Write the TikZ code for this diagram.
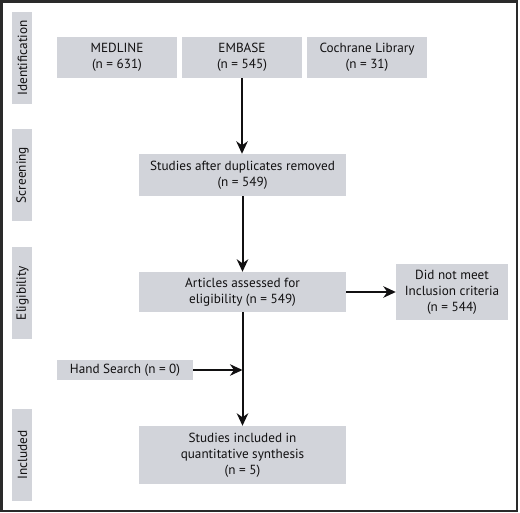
\documentclass[tikz,border=0pt]{standalone}
\usepackage{fontspec}
\setmainfont{PT Sans}
\usetikzlibrary{arrows.meta}
\definecolor{boxfill}{HTML}{D2D4DA}
\definecolor{txt}{HTML}{111011}
\definecolor{frame}{HTML}{2A2A2A}
\begin{document}
\begin{tikzpicture}[x=1pt,y=-1pt,
  box/.style={rectangle,fill=boxfill,inner sep=0pt,align=center,text=txt,
    font=\fontsize{13.2}{16}\selectfont},
  strip/.style={rectangle,fill=boxfill,inner sep=0pt,minimum width=20pt,minimum height=92pt},
  striptext/.style={rotate=90,text=txt,inner sep=0pt,font=\fontsize{13.3}{15}\selectfont},
  arr/.style={line width=2pt,txt,-{Stealth[length=12.5pt,width=11.5pt,inset=4pt]}}]
\useasboundingbox (0,0) rectangle (520,513);
\draw[frame,line width=2.2pt] (1.5,1.5) rectangle (517,511);
% stage strips
\node[strip] (sid) at (22,58) {};
\node[striptext] (tid) at (22.5,58) {Identification};
\node[strip] (ssc) at (22,175) {};
\node[striptext] (tsc) at (22.5,175) {Screening};
\node[strip] (sel) at (22,293) {};
\node[striptext] (tel) at (22.5,293) {Eligibility};
\node[strip] (sin) at (22,455) {};
\node[striptext] (tin) at (22.5,455) {Included};
% boxes
\node[box,minimum width=120pt,minimum height=41pt] (med) at (117,57.5) {MEDLINE\\(n = 631)};
\node[box,minimum width=120pt,minimum height=41pt] (emb) at (242,57.5) {EMBASE\\(n = 545)};
\node[box,minimum width=120pt,minimum height=41pt] (coc) at (367,57.5) {Cochrane Library\\(n = 31)};
\node[box,minimum width=207pt,minimum height=42pt] (dup) at (242.5,175) {Studies after duplicates removed\\(n = 549)};
\node[box,minimum width=207pt,minimum height=40pt] (art) at (242.5,292) {Articles assessed for\\eligibility (n = 549)};
\node[box,minimum width=112pt,minimum height=56pt] (dnm) at (452,292) {Did not meet\\Inclusion criteria\\(n = 544)};
\node[box,minimum width=136pt,minimum height=20pt] (hand) at (125,370) {Hand Search (n = 0)};
\node[box,minimum width=207pt,minimum height=58pt] (inc) at (242.5,455) {Studies included in\\quantitative synthesis\\(n = 5)};
\coordinate (join) at (242.5,370);
% connectors
\draw[arr] (emb.south) -- (emb.south |- dup.north);
\draw[arr] (dup.south) -- (art.north);
\draw[arr] (art.east) -- (dnm.west);
\draw[arr] (art.south) -- (inc.north);
\draw[arr] (hand.east) -- (join);
\end{tikzpicture}
\end{document}
